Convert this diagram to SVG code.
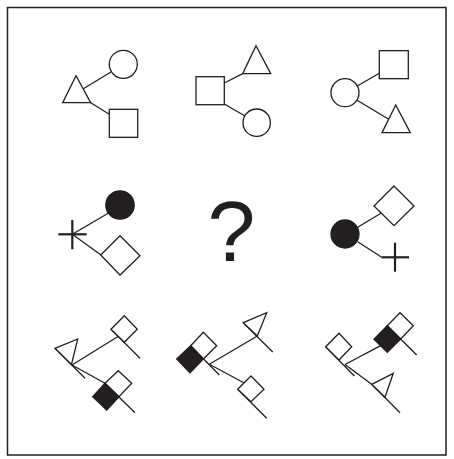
<svg xmlns="http://www.w3.org/2000/svg" width="454" height="459" viewBox="0 0 454 459">
<style>
.o{fill:#fff;stroke:#231f20;stroke-width:1.3;stroke-linejoin:miter}
.k{fill:#231f20;stroke:#231f20;stroke-width:1.3}
.l{stroke:#231f20;stroke-width:1.3;fill:none}
.x{stroke:#231f20;stroke-width:2.2;fill:none}
.q{font-family:"Liberation Sans",Arial,sans-serif;font-size:86px;fill:#231f20}
</style>
<rect x="0" y="0" width="454" height="459" fill="#fff"/>
<rect id="frame" x="7.5" y="7.5" width="438.5" height="447.5" fill="none" stroke="#231f20" stroke-width="1.5"/>
<g id="connectors">
<line class="l" x1="83.3" y1="88.7" x2="111" y2="72"/>
<line class="l" x1="90.7" y1="102.7" x2="109.3" y2="114.3"/>
<line class="l" x1="224.3" y1="83" x2="242.7" y2="73.7"/>
<line class="l" x1="224.3" y1="104" x2="245" y2="116"/>
<line class="l" x1="357.7" y1="85.7" x2="379.3" y2="73.3"/>
<line class="l" x1="356.7" y1="100" x2="388.7" y2="119.3"/>
<line class="l" x1="72.3" y1="234.3" x2="109" y2="212.7"/>
<line class="l" x1="72.3" y1="234.3" x2="101" y2="255"/>
<line class="l" x1="357.7" y1="227.3" x2="381" y2="213.3"/>
<line class="l" x1="357.7" y1="241.7" x2="381.7" y2="257.3"/>
<line class="l" x1="72" y1="365" x2="118" y2="336.5"/>
<line class="l" x1="72" y1="365" x2="105" y2="383.3"/>
<line class="l" x1="209.3" y1="364.3" x2="257.3" y2="336"/>
<line class="l" x1="209.3" y1="364.3" x2="244.3" y2="383"/>
<line class="l" x1="345" y1="364.5" x2="380.7" y2="345.7"/>
<line class="l" x1="345" y1="364.5" x2="371.7" y2="384.3"/>
</g>
<g id="p1-circle"><circle class="o" cx="123.3" cy="64.3" r="14"/></g>
<g id="p1-triangle"><polygon class="o" points="76,75.7 62.7,102.7 90.7,102.7"/></g>
<g id="p1-square"><rect class="o" x="109.3" y="109.3" width="28.4" height="28"/></g>
<g id="p2-triangle"><polygon class="o" points="256,45.7 242.7,73.7 270.7,73.7"/></g>
<g id="p2-square"><rect class="o" x="196" y="76.7" width="28.3" height="28"/></g>
<g id="p2-circle"><circle class="o" cx="256.7" cy="122.7" r="13.7"/></g>
<g id="p3-square"><rect class="o" x="379.3" y="50.7" width="29" height="28"/></g>
<g id="p3-circle"><circle class="o" cx="345" cy="92.7" r="14"/></g>
<g id="p3-triangle"><polygon class="o" points="395.7,105 382,132.7 410.3,132.7"/></g>
<g id="p4-circle"><circle class="k" cx="120" cy="205" r="14.2"/></g>
<g id="p4-cross"><line class="x" x1="58.3" y1="234.3" x2="86.7" y2="234.3"/><line class="x" x1="72.3" y1="220" x2="72.3" y2="249.3"/></g>
<g id="p4-diamond"><polygon class="o" points="120,235.7 140,255.7 120,275 100.7,255"/></g>
<g id="question"><text class="q" x="231.5" y="261" text-anchor="middle">?</text></g>
<g id="p6-diamond"><polygon class="o" points="394,186 414,206 394,225.7 374,206"/></g>
<g id="p6-circle"><circle class="k" cx="345" cy="234" r="14"/></g>
<g id="p6-cross"><line class="x" x1="381.7" y1="257.3" x2="409" y2="257.3"/><line class="x" x1="395" y1="242.7" x2="395" y2="271.7"/></g>
<g id="p7-triangle"><line class="l" x1="55" y1="348.3" x2="85" y2="378.3"/><polygon class="o" points="55,348.3 77.7,339 71.5,364.5"/></g>
<g id="p7-diamond"><line class="l" x1="111" y1="329.3" x2="140" y2="358.3"/><polygon class="o" points="111,329.3 124.3,315.7 137.3,329.3 124.3,342.3"/></g>
<g id="p7-double"><polygon class="k" points="92.7,396.7 105,383.3 119,396.7 106.7,410"/><polygon class="o" points="105,383.3 118.3,370.7 131.7,383.3 119,396.7"/><line class="l" x1="105" y1="383.3" x2="135" y2="412.7"/></g>
<g id="p8-triangle"><line class="l" x1="243.3" y1="322.7" x2="272.7" y2="352"/><polygon class="o" points="243.3,322.7 266.7,312.7 257.3,336"/></g>
<g id="p8-double"><polygon class="k" points="176.7,359 190.7,345.7 203.3,359 190,372.7"/><polygon class="o" points="190.7,345.7 203.3,332.3 216.7,345.7 203.3,359"/><line class="l" x1="190.7" y1="345.7" x2="219.3" y2="375"/></g>
<g id="p8-diamond"><line class="l" x1="237.7" y1="389.3" x2="266.7" y2="418.3"/><polygon class="o" points="237.7,389.3 251,376 264,389.3 251,401.7"/></g>
<g id="p9-double"><polygon class="k" points="374,339.3 387.3,325.7 400.7,339 387.3,352.3"/><polygon class="o" points="387.3,325.7 400,312.7 413.3,325.7 400.7,339"/><line class="l" x1="387.3" y1="325.7" x2="416.7" y2="355"/></g>
<g id="p9-diamond"><line class="l" x1="325.7" y1="346.7" x2="354.3" y2="376"/><polygon class="o" points="325.7,346.7 339,333.3 351.7,346.7 339,360"/></g>
<g id="p9-triangle"><line class="l" x1="371.7" y1="384.3" x2="400" y2="412.7"/><polygon class="o" points="371.7,384.3 393.3,373.3 385,397.3"/></g>
</svg>
